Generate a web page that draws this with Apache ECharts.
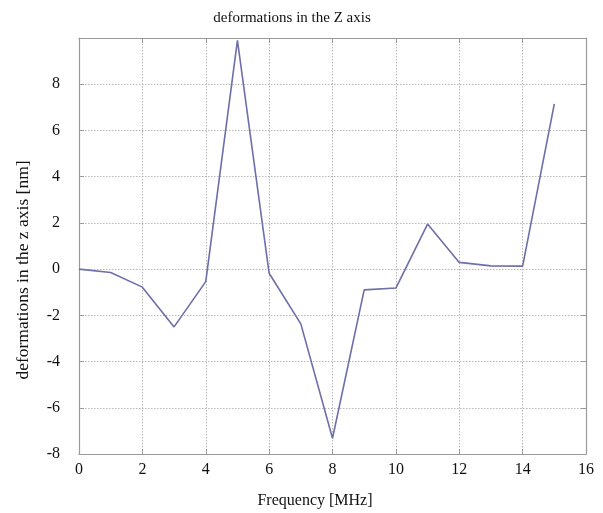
<!DOCTYPE html>
<html>
<head>
<meta charset="utf-8">
<style>
  html, body { margin: 0; padding: 0; background: #fff; }
  #chart { width: 603px; height: 513px; }
</style>
<script src="https://cdn.jsdelivr.net/npm/echarts@6/dist/echarts.min.js"></script>
</head>
<body>
<div id="chart"></div>
<script>
// Frequency samples (MHz) and measured deformation along Z (nm)
const frequency = [0, 1, 2, 3, 4, 5, 6, 7, 8, 9, 10, 11, 12, 13, 14, 15];
const deformation = [0, -0.15, -0.78, -2.5, -0.54, 9.9, -0.18, -2.37, -7.32, -0.9, -0.82, 1.95, 0.29, 0.14, 0.13, 7.15];
const xTicks = [0, 2, 4, 6, 8, 10, 12, 14, 16];
const yTicks = [-8, -6, -4, -2, 0, 2, 4, 6, 8];

const serif = '"Liberation Serif", "DejaVu Serif", serif';
const frameColor = '#9a9a9a';

const chart = echarts.init(document.getElementById('chart'));

const frameAxisLine = { show: true, onZero: false, lineStyle: { color: frameColor, width: 1.2 } };
const innerTick = { show: true, inside: true, length: 5, lineStyle: { color: frameColor } };
const dottedGrid = { show: true, lineStyle: { color: '#b8b8b8', type: [1.5, 1.5], width: 1 } };

chart.setOption({
  animation: false,
  backgroundColor: '#fff',
  grid: { left: 79, right: 17, top: 38, bottom: 59, containLabel: false },
  xAxis: [
    {
      type: 'value', min: 0, max: 16, interval: 2, position: 'bottom',
      axisLine: frameAxisLine, axisTick: innerTick, splitLine: dottedGrid,
      axisLabel: {
        color: '#111', fontFamily: serif, fontSize: 16, margin: 8,
        formatter: v => xTicks.includes(v) ? String(v) : ''
      }
    },
    {
      type: 'value', min: 0, max: 16, interval: 2, position: 'top',
      axisLine: frameAxisLine, axisTick: innerTick, splitLine: { show: false },
      axisLabel: { show: false }
    }
  ],
  yAxis: [
    {
      type: 'value', min: -8, max: 10, interval: 2, position: 'left',
      axisLine: frameAxisLine, axisTick: innerTick, splitLine: dottedGrid,
      axisLabel: {
        color: '#111', fontFamily: serif, fontSize: 16, margin: 19,
        formatter: v => yTicks.includes(v) ? String(v) : ''
      }
    },
    {
      type: 'value', min: -8, max: 10, interval: 2, position: 'right',
      axisLine: frameAxisLine, axisTick: innerTick, splitLine: { show: false },
      axisLabel: { show: false }
    }
  ],
  graphic: [
    {
      type: 'text', x: 292, y: 18,
      style: { text: 'deformations in the Z axis', fill: '#111', font: '15px ' + serif, align: 'center', verticalAlign: 'middle' }
    },
    {
      type: 'text', x: 315, y: 501,
      style: { text: 'Frequency [MHz]', fill: '#111', font: '16px ' + serif, align: 'center', verticalAlign: 'middle' }
    },
    {
      type: 'text', x: 23, y: 270, rotation: Math.PI / 2,
      style: { text: 'deformations in the z axis [nm]', fill: '#111', font: '17.5px ' + serif, align: 'center', verticalAlign: 'middle' }
    }
  ],
  series: [
    {
      type: 'line',
      xAxisIndex: 0, yAxisIndex: 0,
      data: frequency.map((f, i) => [f, deformation[i]]),
      showSymbol: false, symbol: 'none',
      lineStyle: { color: '#6e6eaa', width: 1.6 },
      clip: false
    }
  ]
});
</script>
</body>
</html>
